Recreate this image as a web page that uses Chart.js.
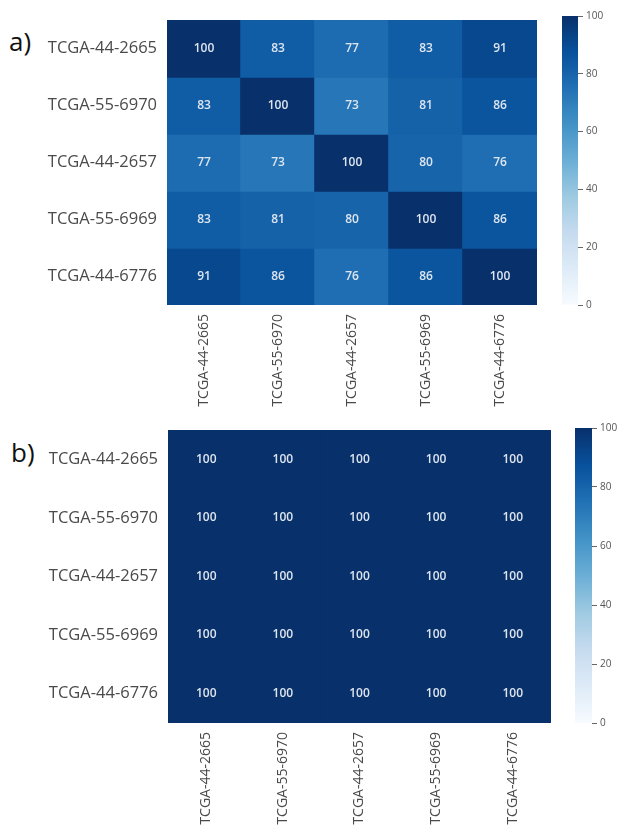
<!DOCTYPE html>
<html lang="en">
<head>
    <meta charset="UTF-8">
    <script src="https://cdn.jsdelivr.net/npm/chart.js"></script>
    <title>Sample similarity heatmaps</title>
    <style>
        body { margin: 0; background: #fff; width: 624px; height: 833px; position: relative; overflow: hidden; font-family: "Open Sans", sans-serif; }
        canvas, .tag { position: absolute; }
        .tag { font-size: 26px; color: #111; line-height: 1; }
    </style>
</head>
<body>
    <div class="tag" style="left:9px; top:28px;">a)</div>
    <div class="tag" style="left:11px; top:439px;">b)</div>

    <canvas id="heatA" width="545" height="420" style="left:0; top:0;"></canvas>
    <canvas id="barA" width="69" height="330" style="left:555px; top:0;"></canvas>
    <canvas id="heatB" width="560" height="423" style="left:0; top:410px;"></canvas>
    <canvas id="barB" width="60" height="330" style="left:568px; top:411px;"></canvas>

    <script>
        // samples (same order on both axes)
        const samples = ['TCGA-44-2665', 'TCGA-55-6970', 'TCGA-44-2657', 'TCGA-55-6969', 'TCGA-44-6776'];

        // panel a) similarity matrix, one array per row
        const rowA1 = [100, 83, 77, 83, 91];
        const rowA2 = [83, 100, 73, 81, 86];
        const rowA3 = [77, 73, 100, 80, 76];
        const rowA4 = [83, 81, 80, 100, 86];
        const rowA5 = [91, 86, 76, 86, 100];

        // panel b) similarity matrix
        const rowB1 = [100, 100, 100, 100, 100];
        const rowB2 = [100, 100, 100, 100, 100];
        const rowB3 = [100, 100, 100, 100, 100];
        const rowB4 = [100, 100, 100, 100, 100];
        const rowB5 = [100, 100, 100, 100, 100];

        // colour bar ticks
        const barTicks = [0, 20, 40, 60, 80, 100];

        // matplotlib "Blues"
        const blues = ['#f7fbff', '#deebf7', '#c6dbef', '#9ecae1', '#6baed6', '#4292c6', '#2171b5', '#08519c', '#08306b'];

        function hexToRgb(h) {
            return [parseInt(h.slice(1, 3), 16), parseInt(h.slice(3, 5), 16), parseInt(h.slice(5, 7), 16)];
        }
        function bluesColor(v) {
            let t = Math.max(0, Math.min(1, v / 100)) * (blues.length - 1);
            let i = Math.min(Math.floor(t), blues.length - 2);
            let f = t - i;
            let a = hexToRgb(blues[i]), b = hexToRgb(blues[i + 1]);
            let c = a.map((x, k) => Math.round(x + (b[k] - x) * f));
            return 'rgb(' + c.join(',') + ')';
        }

        // writes the value in the middle of every cell
        const cellText = {
            id: 'cellText',
            afterDatasetsDraw(chart) {
                const ctx = chart.ctx;
                ctx.save();
                ctx.font = '600 12px "Open Sans"';
                ctx.fillStyle = '#dde5ef';
                ctx.textAlign = 'center';
                ctx.textBaseline = 'middle';
                chart.data.datasets.forEach((ds, d) => {
                    chart.getDatasetMeta(d).data.forEach((bar, i) => {
                        const p = bar.getCenterPoint();
                        ctx.fillText(ds.values[i], p.x, p.y);
                    });
                });
                ctx.restore();
            }
        };

        function heatmap(id, rows, yWidth, xHeight, top, right) {
            return new Chart(document.getElementById(id), {
                type: 'bar',
                data: {
                    labels: samples,
                    datasets: rows.map((r, k) => ({
                        label: samples[k],
                        data: r.map(() => 1),
                        values: r,
                        backgroundColor: r.map(bluesColor),
                        borderWidth: 0,
                        inflateAmount: 0.8,
                        barPercentage: 1,
                        categoryPercentage: 1
                    }))
                },
                options: {
                    responsive: false,
                    animation: false,
                    layout: { padding: { top: top, right: right, left: 0, bottom: 0 } },
                    plugins: { legend: { display: false }, tooltip: { enabled: false } },
                    scales: {
                        x: {
                            stacked: true,
                            grid: { display: false, drawTicks: false },
                            border: { display: false },
                            ticks: {
                                minRotation: 90, maxRotation: 90, padding: 9,
                                color: '#4a4a4a', font: { family: 'Open Sans', size: 14 }
                            },
                            afterFit(s) { s.height = xHeight; }
                        },
                        y: {
                            stacked: true,
                            reverse: true,
                            min: 0, max: 5,
                            grid: { display: false, drawTicks: false },
                            border: { display: false },
                            afterBuildTicks(s) { s.ticks = samples.map((_, i) => ({ value: i + 0.5 })); },
                            ticks: {
                                padding: 10,
                                color: '#4a4a4a', font: { family: 'Open Sans', size: 16.5 },
                                callback: (v, i) => samples[i]
                            },
                            afterFit(s) { s.width = yWidth; }
                        }
                    }
                },
                plugins: [cellText]
            });
        }

        function colorBar(id, left, top, bottom, axisWidth) {
            return new Chart(document.getElementById(id), {
                type: 'bar',
                data: {
                    labels: [''],
                    datasets: [{
                        data: [100],
                        borderWidth: 0,
                        barPercentage: 1,
                        categoryPercentage: 1,
                        backgroundColor(c) {
                            const a = c.chart.chartArea;
                            if (!a) return blues[8];
                            const g = c.chart.ctx.createLinearGradient(0, a.bottom, 0, a.top);
                            blues.forEach((col, i) => g.addColorStop(i / (blues.length - 1), col));
                            return g;
                        }
                    }]
                },
                options: {
                    responsive: false,
                    animation: false,
                    layout: { padding: { top: top, bottom: bottom, left: left, right: 0 } },
                    plugins: { legend: { display: false }, tooltip: { enabled: false } },
                    scales: {
                        x: { display: false },
                        y: {
                            position: 'right',
                            min: 0, max: 100,
                            afterBuildTicks(s) { s.ticks = barTicks.map(v => ({ value: v })); },
                            grid: { drawOnChartArea: false, drawTicks: true, tickLength: 5, color: '#666', lineWidth: 1 },
                            border: { display: false },
                            ticks: { padding: 3, color: '#555', font: { family: 'Open Sans', size: 10 } },
                            afterFit(s) { s.width = axisWidth; }
                        }
                    }
                }
            });
        }

        heatmap('heatA', [rowA1, rowA2, rowA3, rowA4, rowA5], 167, 115, 16, 8);
        colorBar('barA', 7, 16, 25, 46);
        heatmap('heatB', [rowB1, rowB2, rowB3, rowB4, rowB5], 168, 110, 17, 9);
        colorBar('barB', 7, 17, 18, 36);
    </script>
</body>
</html>
